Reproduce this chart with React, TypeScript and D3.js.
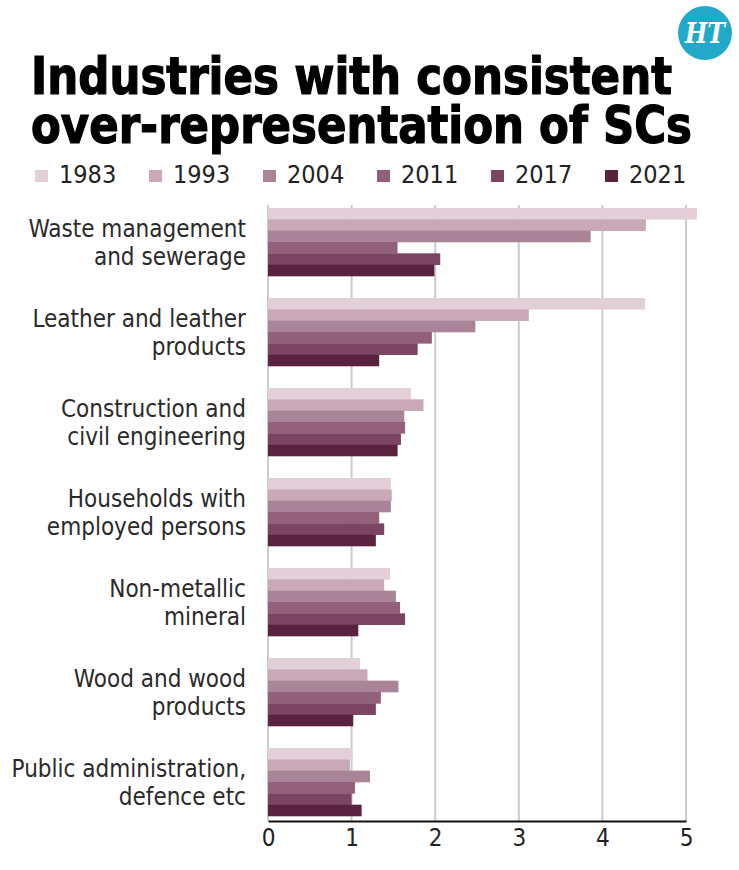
import React, { useEffect, useRef } from "react";
import * as d3 from "d3";

// Ratio of SC share in each industry to their share of the workforce
const industries = [
  ["Waste management", "and sewerage"],
  ["Leather and leather", "products"],
  ["Construction and", "civil engineering"],
  ["Households with", "employed persons"],
  ["Non-metallic", "mineral"],
  ["Wood and wood", "products"],
  ["Public administration,", "defence etc"],
];
const years = ["1983", "1993", "2004", "2011", "2017", "2021"];
const yearColors = ["#e3cfd8", "#c9a8b7", "#a98497", "#93607a", "#7a4462", "#5b2240"];

const v1983 = [5.13, 4.51, 1.71, 1.47, 1.46, 1.1, 1.01];
const v1993 = [4.52, 3.12, 1.86, 1.48, 1.39, 1.19, 0.98];
const v2004 = [3.86, 2.48, 1.63, 1.47, 1.53, 1.56, 1.22];
const v2011 = [1.55, 1.96, 1.64, 1.33, 1.58, 1.35, 1.04];
const v2017 = [2.06, 1.79, 1.59, 1.39, 1.64, 1.29, 1.0];
const v2021 = [1.99, 1.33, 1.55, 1.29, 1.08, 1.02, 1.12];
const series = [v1983, v1993, v2004, v2011, v2017, v2021];

const xTicks = [0, 1, 2, 3, 4, 5];

const labelFont = "'DejaVu Sans Condensed', 'DejaVu Sans', sans-serif";

function createChart(el: SVGSVGElement) {
  const width = 739,
    height = 870;
  const svg = d3.select(el);
  svg.selectAll("*").remove();
  svg.attr("width", width).attr("height", height);

  svg.append("rect").attr("width", width).attr("height", height).attr("fill", "#fff");

  // Headline, two heavy lines set tight (squeezed to width with textLength)
  const titleLines = [
    { text: "Industries with consistent", y: 94, len: 641 },
    { text: "over-representation of SCs", y: 143, len: 661 },
  ];
  svg
    .append("g")
    .selectAll("text")
    .data(titleLines)
    .join("text")
    .attr("x", 31)
    .attr("y", (d) => d.y)
    .attr("font-family", labelFont)
    .attr("font-weight", "bold")
    .attr("font-size", 51)
    .attr("fill", "#000")
    .attr("stroke", "#000")
    .attr("stroke-width", 1.2)
    .attr("textLength", (d) => d.len)
    .attr("lengthAdjust", "spacingAndGlyphs")
    .text((d) => d.text);

  // HT badge
  const logo = svg.append("g").attr("transform", "translate(705,33)");
  logo.append("circle").attr("r", 27).attr("fill", "#22a9c9");
  logo
    .append("text")
    .attr("text-anchor", "middle")
    .attr("y", 10)
    .attr("font-family", "'DejaVu Serif', serif")
    .attr("font-weight", "bold")
    .attr("font-style", "italic")
    .attr("font-size", 28)
    .attr("fill", "#fff")
    .attr("textLength", 40)
    .attr("lengthAdjust", "spacingAndGlyphs")
    .text("HT");

  // Legend
  const legendX = d3.scaleLinear().domain([0, years.length - 1]).range([35, 605]);
  const legend = svg
    .selectAll("g.legend")
    .data(years)
    .join("g")
    .attr("class", "legend")
    .attr("transform", (_d, i) => `translate(${legendX(i)},170)`);
  legend
    .append("rect")
    .attr("width", 13)
    .attr("height", 12)
    .attr("fill", (_d, i) => yearColors[i]);
  legend
    .append("text")
    .attr("x", 24)
    .attr("y", 13)
    .attr("font-family", labelFont)
    .attr("font-size", 25)
    .attr("fill", "#222")
    .text((d) => d);

  // Scales
  const x = d3.scaleLinear().domain([0, 5]).range([268, 686]);
  const y = d3
    .scaleBand<number>()
    .domain(d3.range(industries.length))
    .range([197, 827])
    .paddingInner(22 / 90)
    .paddingOuter(0.1222);
  const yInner = d3.scaleBand<number>().domain(d3.range(years.length)).range([0, y.bandwidth()]);

  // Gridlines
  svg
    .append("g")
    .selectAll("line")
    .data(xTicks)
    .join("line")
    .attr("x1", (d) => x(d))
    .attr("x2", (d) => x(d))
    .attr("y1", 205)
    .attr("y2", 821)
    .attr("stroke", "#c6cdd0")
    .attr("stroke-width", 2);

  // Bars
  const groups = svg
    .append("g")
    .selectAll("g")
    .data(industries)
    .join("g")
    .attr("transform", (_d, i) => `translate(0,${y(i)})`);

  groups
    .selectAll("rect")
    .data((_d, i) => series.map((s, k) => ({ k, v: s[i] })))
    .join("rect")
    .attr("x", x(0))
    .attr("y", (d) => yInner(d.k)!)
    .attr("width", (d) => x(d.v) - x(0))
    .attr("height", yInner.bandwidth() + 0.3)
    .attr("fill", (d) => yearColors[d.k]);

  // Category labels
  groups
    .append("text")
    .attr("font-family", labelFont)
    .attr("font-size", 24)
    .attr("fill", "#2a2a2a")
    .attr("text-anchor", "end")
    .selectAll("tspan")
    .data((d) => d)
    .join("tspan")
    .attr("x", 246)
    .attr("y", (_d, j) => 29 + j * 28)
    .text((d) => d);

  // X axis
  const axis = svg
    .append("g")
    .attr("transform", "translate(0,821)")
    .call(d3.axisBottom(x).tickValues(xTicks).tickSize(0).tickPadding(8).tickFormat(d3.format("d")));
  axis.select(".domain").attr("stroke", "#111").attr("stroke-width", 2);
  axis
    .selectAll("text")
    .attr("font-family", labelFont)
    .attr("font-size", 24)
    .attr("fill", "#222");
}

export default function App() {
  const ref = useRef<SVGSVGElement>(null);
  useEffect(() => {
    document.body.style.margin = "0";
    if (ref.current) createChart(ref.current);
  }, []);

  return (
    <div>
      <svg ref={ref} style={{ display: "block" }}></svg>
    </div>
  );
}
